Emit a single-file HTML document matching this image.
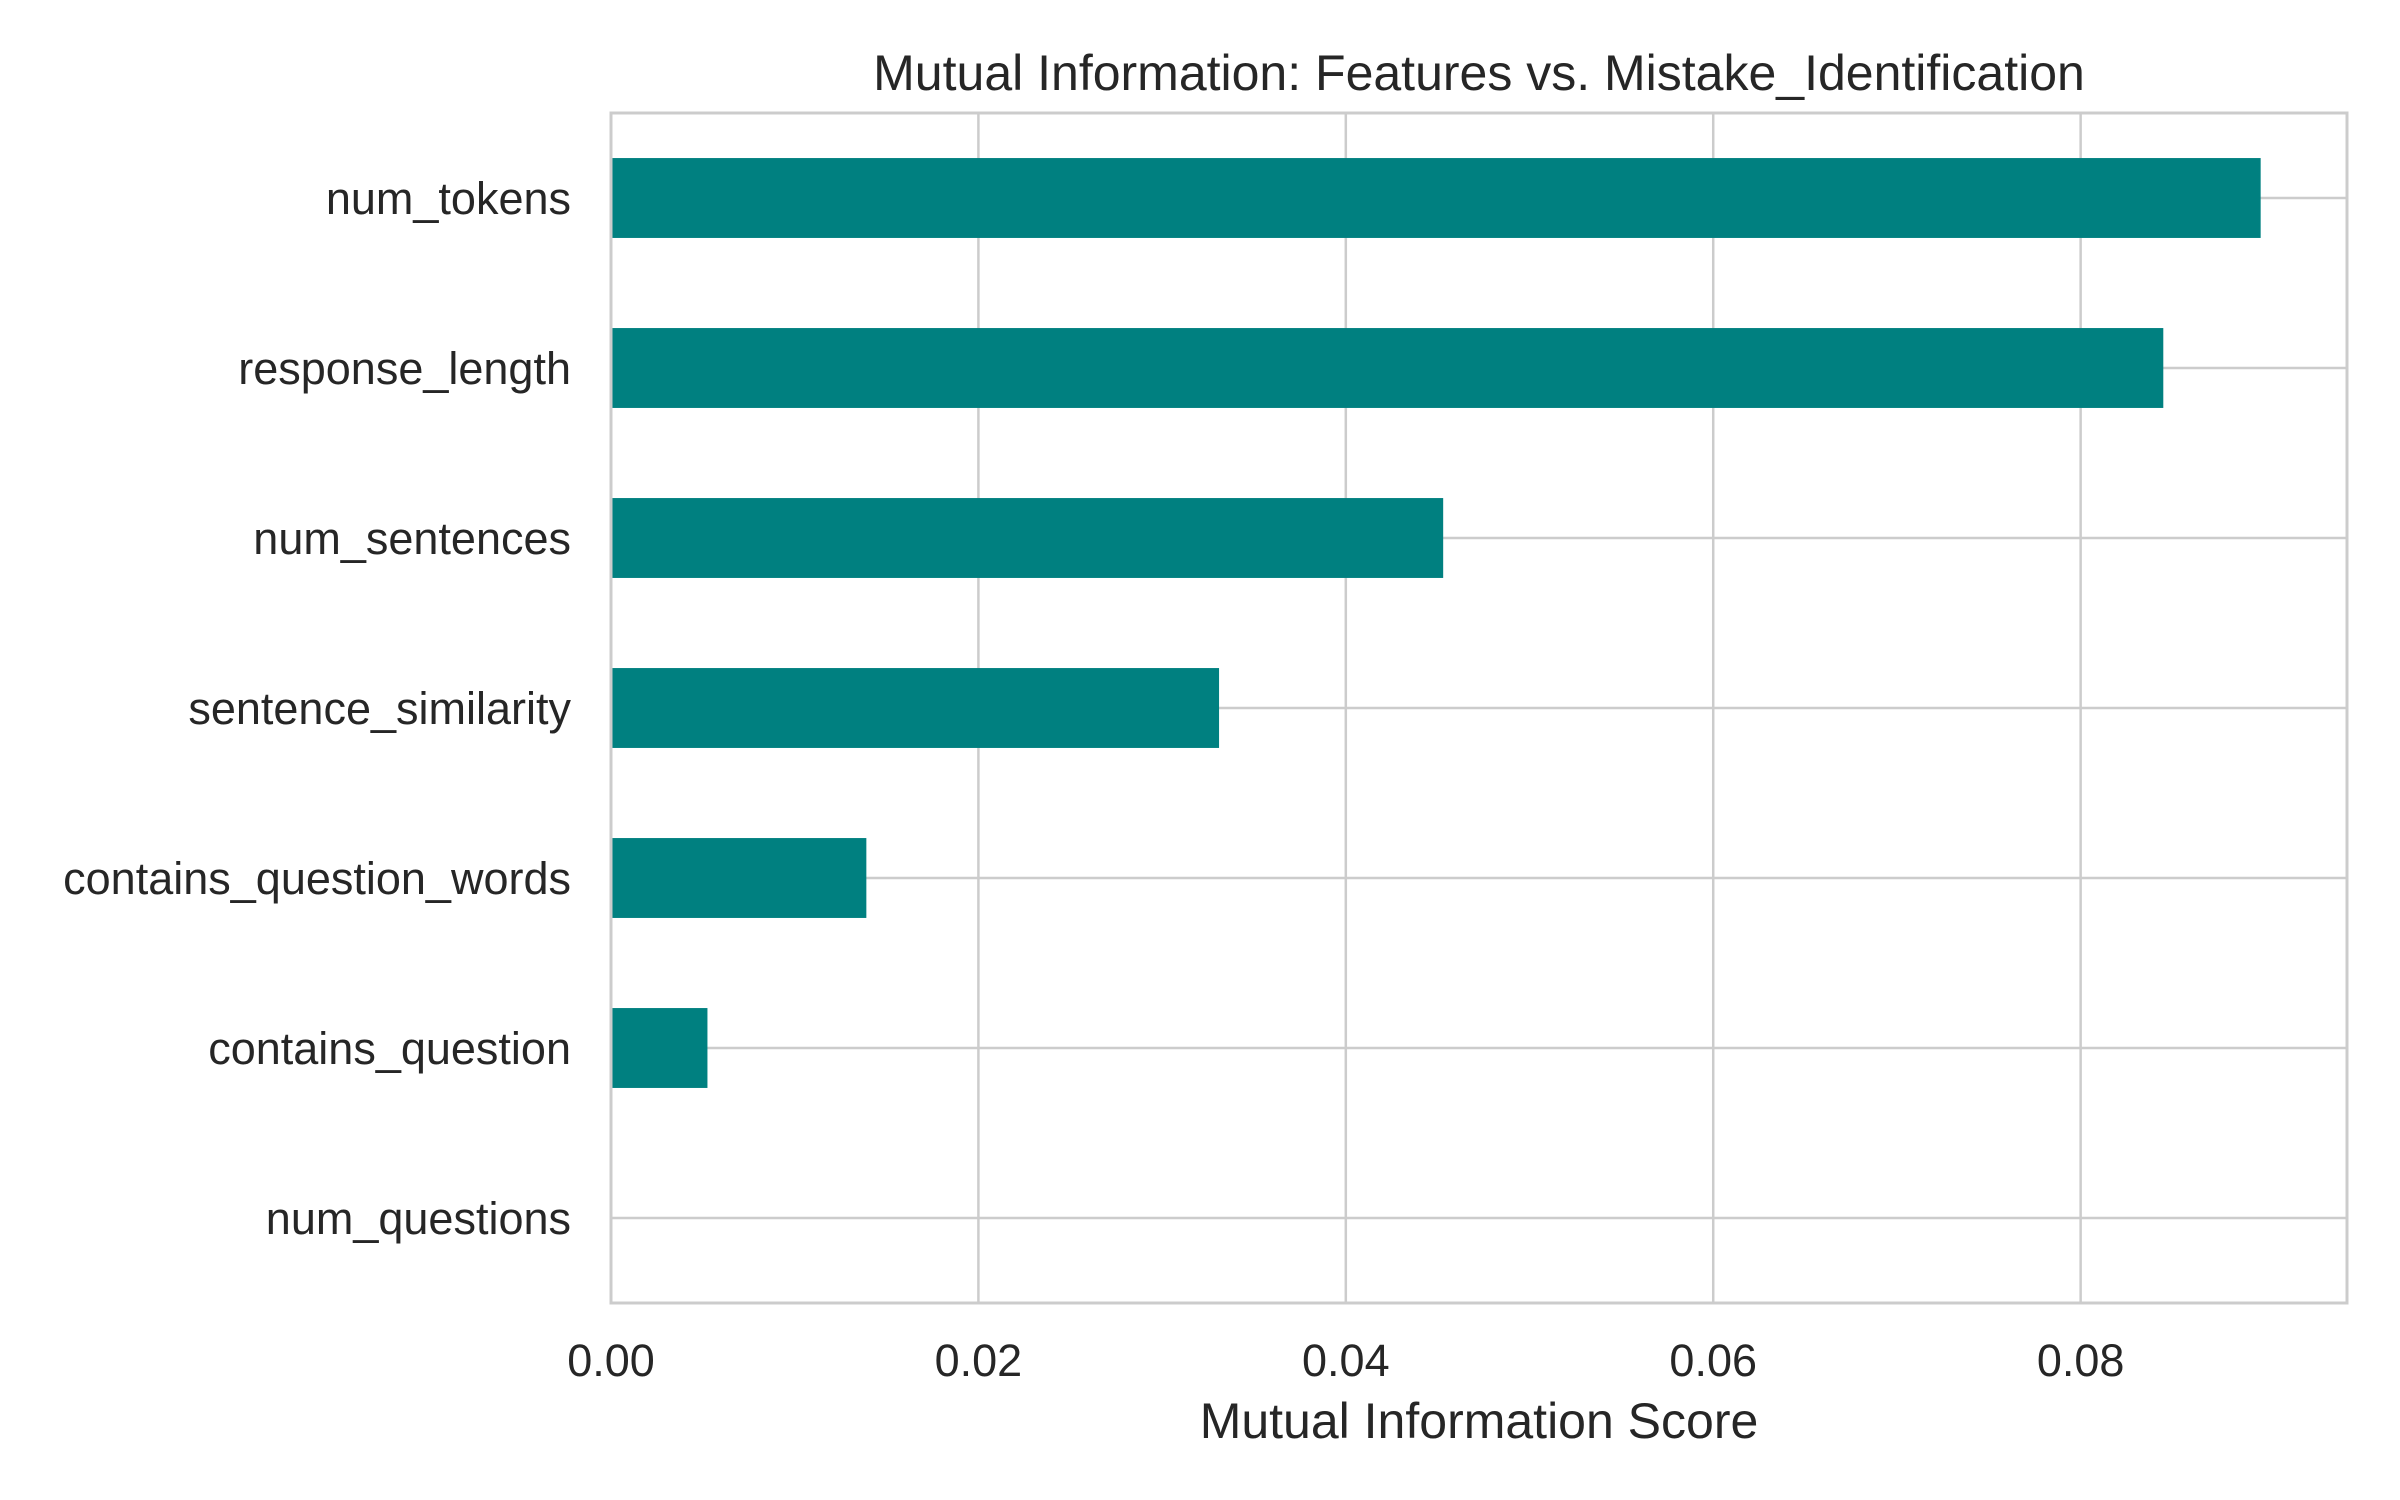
<!DOCTYPE html>
<html><head><meta charset="utf-8"><style>
html,body{margin:0;padding:0;background:#fff;}
svg{display:block;font-family:"Liberation Sans",Arial,sans-serif;}
</style></head><body>
<svg id="chart" width="2400" height="1500" viewBox="0 0 2400 1500" xmlns="http://www.w3.org/2000/svg">
<rect width="2400" height="1500" fill="#fff"/>
<g id="grid"></g><g id="bars"></g><g id="axes"></g>
</svg>
<script>
const categories = ["num_tokens","response_length","num_sentences","sentence_similarity","contains_question_words","contains_question","num_questions"];
const values = [0.0898,0.0845,0.0453,0.0331,0.0139,0.00525,0.0];
const xTicks = [0,0.02,0.04,0.06,0.08];
const xTickLabels = ["0.00","0.02","0.04","0.06","0.08"];
const NS="http://www.w3.org/2000/svg";
const L=611,R=2347,T=113,B=1303,XMAX=0.0945;
const xs=v=>L+(v/XMAX)*(R-L);
const band=(B-T)/categories.length;
const yc=i=>T+band*(i+0.5);
function mk(tag,attrs,parent){const e=document.createElementNS(NS,tag);for(const k in attrs)e.setAttribute(k,attrs[k]);parent.appendChild(e);return e;}
const grid=document.getElementById('grid'),bars=document.getElementById('bars'),axes=document.getElementById('axes');
xTicks.forEach((t,i)=>{
  const g=mk('line',{x1:xs(t),x2:xs(t),y1:T,y2:B,stroke:'#cccccc','stroke-width':2.5},grid);
  
  
  const tx=mk('text',{x:xs(t),y:1376,'text-anchor':'middle','font-size':45,fill:'#262626'},axes);
  tx.textContent=xTickLabels[i];
  
  
});
categories.forEach((c,i)=>{
  const g=mk('line',{x1:L,x2:R,y1:yc(i),y2:yc(i),stroke:'#cccccc','stroke-width':2.5},grid);
  
  
  const h=band*0.47;
  const b=mk('rect',{x:L,y:yc(i)-h/2,width:xs(values[i])-L,height:h,fill:'#008080'},bars);
  
  
  const tx=mk('text',{x:571,y:yc(i)+16,'text-anchor':'end','font-size':45,fill:'#262626'},axes);
  tx.textContent=c;
  
  
});
const sp=mk('rect',{x:L,y:T,width:R-L,height:B-T,fill:'none',stroke:'#cccccc','stroke-width':3},axes);


const ttl=mk('text',{x:(L+R)/2,y:90,'text-anchor':'middle','font-size':50,fill:'#262626'},axes);
ttl.textContent='Mutual Information: Features vs. Mistake_Identification';


const xl=mk('text',{x:(L+R)/2,y:1438,'text-anchor':'middle','font-size':50,fill:'#262626'},axes);
xl.textContent='Mutual Information Score';


</script>
</body></html>
